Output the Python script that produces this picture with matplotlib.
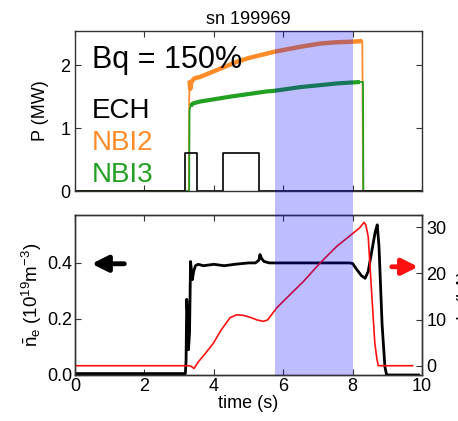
import numpy as np
import matplotlib.pyplot as plt
from matplotlib.patches import Rectangle
from matplotlib import transforms

plt.rcParams['font.family'] = ['Liberation Sans', 'DejaVu Sans']
plt.rcParams['mathtext.fontset'] = 'custom'
plt.rcParams['mathtext.rm'] = 'Liberation Sans'
plt.rcParams['mathtext.it'] = 'Liberation Sans:italic'

# heating power (MW)
t_nbi2 = [0, 3.28, 3.29, 3.30, 3.32, 3.36, 3.45, 3.6, 4.0, 4.66, 5.0, 5.74, 6.5, 7.06, 7.5, 8.0, 8.28, 8.30, 10]
p_nbi2 = [0, 0, 1.40, 1.75, 1.62, 1.74, 1.79, 1.81, 1.90, 2.05, 2.11, 2.21, 2.29, 2.34, 2.36, 2.37, 2.38, 0, 0]

t_nbi3 = [0, 3.29, 3.30, 3.33, 3.40, 3.6, 4.5, 5.52, 5.74, 6.5, 7.06, 7.6, 8.21, 8.30, 8.31, 10]
p_nbi3 = [0, 0, 1.29, 1.35, 1.39, 1.42, 1.50, 1.58, 1.59, 1.65, 1.68, 1.71, 1.73, 1.73, 0, 0]

t_ech = [0, 3.17, 3.17, 3.52, 3.52, 4.27, 4.27, 5.31, 5.31, 10]
p_ech = [0, 0, 0.6, 0.6, 0, 0, 0.6, 0.6, 0, 0]

# line-averaged density (1e19 m^-3)
t_ne = [0, 3.18, 3.20, 3.22, 3.25, 3.27, 3.30, 3.33, 3.35, 3.38, 3.42, 3.47, 3.55, 3.7, 4.0, 4.3,
        4.6, 5.0, 5.2, 5.3, 5.33, 5.38, 5.45, 5.6, 6.0, 7.0, 7.9, 8.0, 8.1, 8.25, 8.36, 8.45,
        8.55, 8.65, 8.71, 8.76, 8.85, 8.93, 8.98, 9.9]
n_e = [0.005, 0.005, 0.05, 0.27, 0.20, 0.09, 0.15, 0.405, 0.38, 0.34, 0.37, 0.39, 0.395, 0.39, 0.395, 0.39,
       0.395, 0.40, 0.40, 0.41, 0.43, 0.415, 0.405, 0.40, 0.40, 0.40, 0.40, 0.398, 0.38, 0.355, 0.345, 0.37,
       0.44, 0.51, 0.536, 0.46, 0.18, 0.03, 0.0, 0.0]

# plasma current (kA)
t_ip = [0.03, 3.30, 3.36, 3.43, 3.55, 3.75, 3.99, 4.2, 4.47, 4.65, 4.85, 5.04, 5.25, 5.43, 5.55, 5.62,
        5.81, 6.2, 6.58, 7.06, 7.54, 8.02, 8.2, 8.33, 8.38, 8.45, 8.55, 8.64, 8.70, 8.74, 9.73]
i_p = [0, 0, -0.2, -0.6, 0.8, 2.6, 4.9, 7.6, 10.4, 11.0, 10.9, 10.5, 9.9, 9.6, 9.9, 10.6,
       12.5, 15.4, 18.2, 22.2, 25.8, 28.7, 29.8, 31.0, 30.5, 27.9, 15.7, 4.9, 1.5, 0, 0]

shade = (5.75, 8.0)

fig = plt.figure(figsize=(4.58, 4.21), dpi=100)
ax1 = fig.add_axes([0.1638, 0.5463, 0.7576, 0.3801])
ax2 = fig.add_axes([0.1638, 0.1093, 0.7576, 0.3800])
ax3 = ax2.twinx()

edge = '#333333'
for ax in (ax1, ax2, ax3):
    for s in ax.spines.values():
        s.set_color(edge)
        s.set_linewidth(1.0)

orange = '#ff8c28'
green = '#22a022'
fs = 13
# thin trace for the switch-on/off steps, heavier trace while the beams are on
ax1.plot(t_nbi2, p_nbi2, color=orange, lw=1.3)
ax1.plot(t_nbi2[3:-2], p_nbi2[3:-2], color=orange, lw=3.2, solid_capstyle='butt')
ax1.plot(t_nbi3, p_nbi3, color=green, lw=1.3)
ax1.plot(t_nbi3[3:-3], p_nbi3[3:-3], color=green, lw=3.0, solid_capstyle='butt')
ax1.plot(t_ech, p_ech, color='black', lw=1.2)
ax1.set_xlim(0, 10)
ax1.set_ylim(0, 2.54)
ax1.set_xticks(np.arange(0, 11, 2))
ax1.set_xticklabels([])
ax1.set_yticks([0, 1, 2])
ax1.tick_params(direction='in', top=True, right=True, labelsize=fs, length=4, color=edge)
ax1.set_ylabel('P (MW)', fontsize=fs, labelpad=8)
ax1.set_title('sn 199969', fontsize=fs, pad=5)

ax1.text(0.49, 1.95, 'Bq = 150%', fontsize=22, va='baseline')
ax1.text(0.49, 1.16, 'ECH', fontsize=20, va='baseline', color='black')
ax1.text(0.49, 0.65, 'NBI2', fontsize=20, va='baseline', color=orange)
ax1.text(0.49, 0.14, 'NBI3', fontsize=20, va='baseline', color=green)

ax2.plot(t_ne, n_e, color='black', lw=2.0, zorder=3)
ax2.set_xlim(0, 10)
ax2.set_ylim(0, 0.571)
ax2.set_xticks(np.arange(0, 11, 2))
ax2.set_yticks([0, 0.2, 0.4])
ax2.set_yticklabels(['0.0', '0.2', '0.4'])
ax2.tick_params(direction='in', top=True, labelsize=fs, length=4, color=edge, pad=2)
ax2.set_xlabel('time (s)', fontsize=fs, labelpad=0)
ax2.set_ylabel(r'$\bar{\mathrm{n}}_\mathrm{e}$ (10$^{19}$m$^{-3}$)', fontsize=13.5, labelpad=2)

ax3.plot(t_ip, i_p, color='#ff1010', lw=1.2, zorder=2)
ax3.set_ylim(-2, 32.6)
ax3.set_yticks([0, 10, 20, 30])
ax3.tick_params(direction='in', labelsize=fs, length=4, color=edge, pad=3)
ax3.set_ylabel(r'I$_\mathrm{p}$ (kA)', fontsize=fs, labelpad=7)

ax2.annotate('', xy=(0.40, 0.397), xytext=(1.50, 0.397),
             arrowprops=dict(arrowstyle='-|>', lw=3.5, color='black', mutation_scale=24))
ax3.annotate('', xy=(9.97, 21.4), xytext=(9.05, 21.4), annotation_clip=False,
             arrowprops=dict(arrowstyle='-|>', lw=3.5, color='#ff1010', mutation_scale=24))

# shaded window spanning both panels, drawn over the traces
bt = transforms.blended_transform_factory(ax1.transData, fig.transFigure)
y0 = 0.1093
y1 = 0.5463 + 0.3801
fig.add_artist(Rectangle((shade[0], y0), shade[1] - shade[0], y1 - y0, transform=bt,
                         facecolor='#0000ff', alpha=0.26, edgecolor='none', zorder=10))

fig.savefig('out.png', dpi=100)
